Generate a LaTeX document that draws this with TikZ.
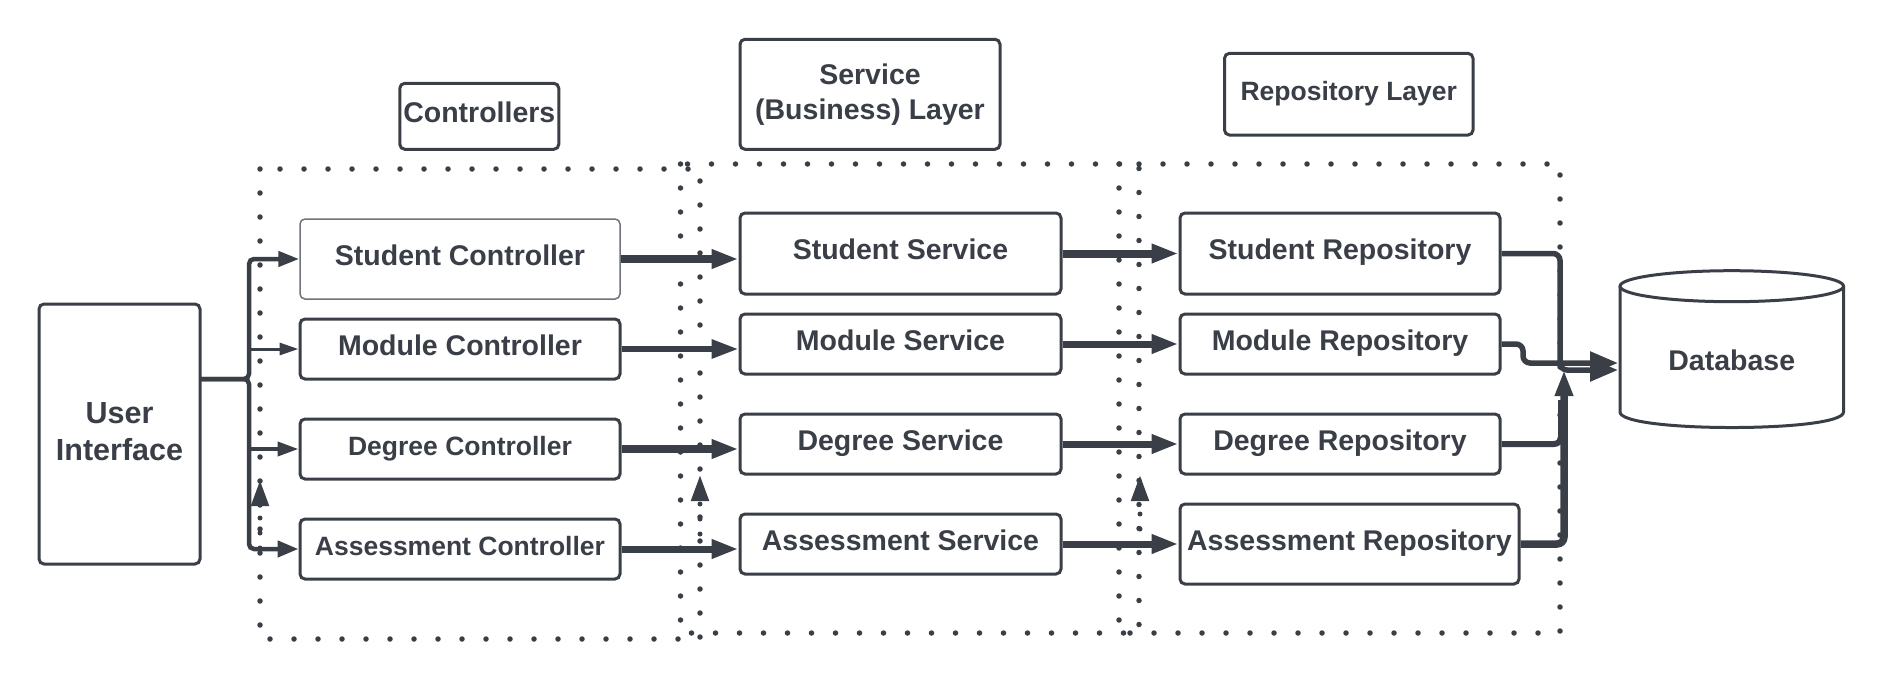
\documentclass[tikz,border=0pt]{standalone}
\usepackage{fontspec}
\setmainfont{Liberation Sans}
\usetikzlibrary{arrows.meta}
\definecolor{ink}{HTML}{3A3F47}
\definecolor{thinink}{HTML}{6F737A}
\begin{document}
\begin{tikzpicture}[x=1pt,y=-1pt,
  boxbase/.style={draw=ink, line width=3pt, rounded corners=5pt, fill=white, inner sep=0pt, text=ink,
    font=\fontsize{28.5}{35}\selectfont\bfseries},
  box/.style={boxbase, text height=20pt, text depth=8pt},
  smallf/.style={font=\fontsize{26.5}{32}\selectfont\bfseries},
  grp/.style={draw=ink, line width=5.5pt, line cap=round, dash pattern=on 0pt off 24pt},
  wire/.style={draw=ink, line width=#1},
  wire/.default=7pt,
  hA/.style={-{Triangle[length=27pt,width=18pt]}},
  hB/.style={-{Triangle[length=21pt,width=15pt]}},
  hU/.style={-{Triangle[length=26pt,width=17pt]}},
  hD/.style={-{Triangle[length=28pt,width=22pt]}},
  dotconn/.style={draw=ink, line width=5pt, line cap=round, dash pattern=on 0pt off 15pt, hU},
]
\useasboundingbox (0,0) rectangle (1884,682);

% dotted layer groups
\draw[grp] (260,169) rectangle (700,639);
\draw[grp] (680.5,164) rectangle (1139,633);
\draw[grp] (1119,164) rectangle (1560,633);

% layer labels
\node[box, minimum width=159pt, minimum height=66pt] (lc) at (479.3,116.3) {Controllers};
\node[boxbase, minimum width=260pt, minimum height=110pt, align=center] (ls) at (870,94.3) {Service\\(Business) Layer};
\node[box, smallf, minimum width=248.5pt, minimum height=81.7pt] (lr) at (1348.75,94.2) {Repository Layer};

% user interface
\node[boxbase, minimum width=161pt, minimum height=260pt, align=center,
  font=\fontsize{30.5}{37.3}\selectfont\bfseries, text depth=5pt] (ui) at (119.5,434) {User\\Interface};

% controllers
\node[box, draw=thinink, line width=1.5pt, minimum width=320pt, minimum height=80pt] (sc) at (460,259) {Student Controller};
\node[box, minimum width=320pt, minimum height=60pt] (mc) at (460,349) {Module Controller};
\node[box, smallf, minimum width=320pt, minimum height=60pt] (dc) at (460,449) {Degree Controller};
\node[box, smallf, minimum width=320pt, minimum height=60pt] (ac) at (460,549) {Assessment Controller};

% services
\node[box, minimum width=321pt, minimum height=81pt] (ss) at (900.5,253.5) {Student Service};
\node[box, minimum width=321pt, minimum height=60pt] (ms) at (900.5,344) {Module Service};
\node[box, minimum width=321pt, minimum height=60pt] (ds) at (900.5,444) {Degree Service};
\node[box, minimum width=321pt, minimum height=60pt] (as) at (900.5,544) {Assessment Service};

% repositories
\node[box, minimum width=320pt, minimum height=81pt] (sr) at (1340,253.5) {Student Repository};
\node[box, minimum width=320pt, minimum height=60pt] (mr) at (1340,344) {Module Repository};
\node[box, minimum width=320pt, minimum height=60pt] (dr) at (1340,444) {Degree Repository};
\node[box, minimum width=339pt, minimum height=80pt] (ar) at (1349.5,544) {Assessment Repository};

% database cylinder
\draw[draw=ink, line width=3pt, fill=white] (1620,286.2) -- (1620,412)
  .. controls (1620,432.7) and (1843.5,432.7) .. (1843.5,412) -- (1843.5,286.2);
\draw[draw=ink, line width=3pt, fill=white] (1731.75,286.2) ellipse [x radius=111.75pt, y radius=15.5pt];
\node[text=ink, font=\fontsize{28.5}{34}\selectfont\bfseries, inner sep=0pt] (db) at (1731.75,360.5) {Database};

% UI to controllers
\coordinate (uiout) at (200,379);
\coordinate (bus) at (249,379);
\draw[wire=4.5pt, rounded corners=5pt, hB] (uiout) -- (bus) |- (sc.west);
\draw[wire=3pt, -{Triangle[length=19pt,width=12pt]}] (bus |- mc.west) -- (mc.west);
\draw[wire=4pt, -{Triangle[length=21pt,width=14pt]}] (bus |- dc.west) -- (dc.west);
\draw[wire=4.5pt, rounded corners=5pt, -{Triangle[length=21pt,width=16pt]}] (uiout) -- (bus) |- (ac.west);

% dotted upward connectors
\coordinate (d1a) at (260,548); \coordinate (d1b) at (260,480);
\coordinate (d2a) at (700,549); \coordinate (d2b) at (700,475);
\coordinate (d3a) at (1140,544); \coordinate (d3b) at (1140,475);
\draw[dotconn] (d1a) -- (d1b);
\draw[dotconn] (d2a) -- (d2b);
\draw[dotconn] (d3a) -- (d3b);

% controllers to services
\draw[wire=8pt, hA] (sc.east) -- (ss.west |- sc.east);
\draw[wire=6pt, hA] (mc.east) -- (ms.west |- mc.east);
\draw[wire=8pt, hA] (dc.east) -- (ds.west |- dc.east);
\draw[wire=7pt, hA] (ac.east) -- (as.west |- ac.east);

% services to repositories
\draw[wire=8pt, hA] (ss.east) -- (sr.west);
\draw[wire=7pt, hA] (ms.east) -- (mr.west);
\draw[wire=7pt, hA] (ds.east) -- (dr.west);
\draw[wire=7pt, hA] (as.east) -- (ar.west);

% repositories to database
\coordinate (sv) at (1560,370);
\coordinate (mj) at (1523,363);
\coordinate (dj) at (1561,400);
\coordinate (up) at (1564,370);
\coordinate (dbin1) at (1618,370);
\coordinate (dbin2) at (1618,363);
\draw[wire=6pt, rounded corners=7pt] (dr.east) -| (dj);
\draw[wire=7.5pt, rounded corners=7pt, hU] (ar.east) -| (up);
\draw[wire=5.5pt, rounded corners=7pt, hD] (sr.east) -| (sv) -- (dbin1);
\draw[wire=5.5pt, rounded corners=7pt, hD] (mr.east) -| (mj) -- (dbin2);
\end{tikzpicture}
\end{document}
